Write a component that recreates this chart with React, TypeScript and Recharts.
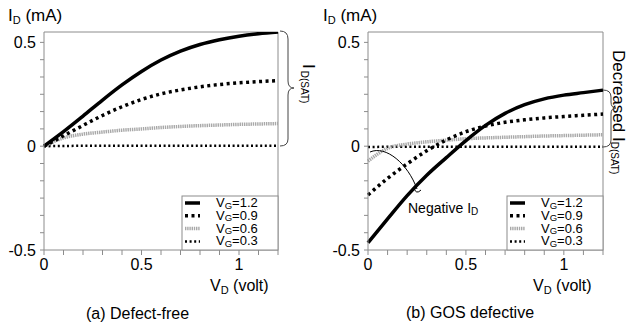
import React from 'react';
import { LineChart, Line, XAxis, YAxis, ReferenceLine } from 'recharts';

// drain voltage (V) sampled every 0.1 V
const VD = [0, 0.1, 0.2, 0.3, 0.4, 0.5, 0.6, 0.7, 0.8, 0.9, 1.0, 1.1, 1.2];

// (a) defect-free, I_D in mA
const FREE_VG12 = [0, 0.07, 0.145, 0.222, 0.295, 0.36, 0.415, 0.458, 0.49, 0.513, 0.53, 0.542, 0.55];
const FREE_VG09 = [0, 0.05, 0.1, 0.148, 0.19, 0.225, 0.252, 0.271, 0.286, 0.297, 0.305, 0.311, 0.316];
const FREE_VG06 = [0, 0.04, 0.058, 0.068, 0.077, 0.083, 0.09, 0.095, 0.099, 0.102, 0.105, 0.107, 0.109];
const FREE_VG03 = [0, 0.001, 0.002, 0.002, 0.002, 0.002, 0.002, 0.002, 0.002, 0.002, 0.002, 0.002, 0.002];

// (b) GOS defective, I_D in mA
const GOS_VG12 = [-0.465, -0.35, -0.238, -0.14, -0.055, 0.027, 0.1, 0.158, 0.2, 0.228, 0.246, 0.258, 0.27];
const GOS_VG09 = [-0.235, -0.155, -0.085, -0.022, 0.03, 0.07, 0.097, 0.115, 0.127, 0.136, 0.143, 0.149, 0.155];
const GOS_VG06 = [-0.072, -0.01, 0.01, 0.021, 0.029, 0.036, 0.04, 0.043, 0.046, 0.049, 0.051, 0.053, 0.055];
const GOS_VG03 = [-0.004, -0.003, -0.003, -0.003, -0.003, -0.003, -0.003, -0.003, -0.003, -0.003, -0.003, -0.003, -0.003];

const X_TICKS = [0, 0.1, 0.2, 0.3, 0.4, 0.5, 0.6, 0.7, 0.8, 0.9, 1.0, 1.1, 1.2];
const X_LABELS = [0, 0.5, 1];
const Y_TICKS = [-0.5, -0.4167, -0.3333, -0.25, -0.1667, -0.0833, 0, 0.0833, 0.1667, 0.25, 0.3333, 0.4167, 0.5];
const Y_LABELS = [-0.5, 0, 0.5];

const SERIES = [
  { key: 'vg12', label: '1.2', stroke: '#000', width: 3.5, dash: undefined as string | undefined },
  { key: 'vg09', label: '0.9', stroke: '#000', width: 3.5, dash: '3 3.5' },
  { key: 'vg06', label: '0.6', stroke: '#a8a8a8', width: 3.5, dash: '1.4 0.8' },
  { key: 'vg03', label: '0.3', stroke: '#000', width: 2.5, dash: '2 2.6' },
];

const FONT = '"Liberation Sans", Arial, sans-serif';
const AXIS = '#8c8c8c';

const build = (a: number[], b: number[], c: number[], d: number[]) =>
  VD.map((v, i) => ({ vd: v, vg12: a[i], vg09: b[i], vg06: c[i], vg03: d[i] }));

const freeData = build(FREE_VG12, FREE_VG09, FREE_VG06, FREE_VG03);
const gosData = build(GOS_VG12, GOS_VG09, GOS_VG06, GOS_VG03);

const fmtX = (v: number) => (X_LABELS.some(l => Math.abs(l - v) < 1e-6) ? String(v) : '');
const fmtY = (v: number) => (Y_LABELS.some(l => Math.abs(l - v) < 1e-6) ? String(v) : '');

const Panel = ({ data, width, yWidth, right }: any) => (
  <LineChart width={width} height={329} data={data} margin={{ top: 32, right, bottom: 49, left: 0 }}>
    <XAxis
      type="number"
      dataKey="vd"
      domain={[0, 1.2]}
      ticks={X_TICKS}
      interval={0}
      tickFormatter={fmtX}
      height={30}
      axisLine={{ stroke: AXIS }}
      tickLine={{ stroke: AXIS }}
      tickSize={5}
      tickMargin={4}
      tick={{ fill: '#000', fontSize: 16, fontFamily: FONT }}
    />
    <YAxis
      type="number"
      domain={[-0.5, 0.55]}
      allowDataOverflow
      ticks={Y_TICKS}
      interval={0}
      tickFormatter={fmtY}
      width={yWidth}
      axisLine={{ stroke: AXIS }}
      tickLine={{ stroke: AXIS }}
      tickSize={4}
      tickMargin={4}
      tick={{ fill: '#000', fontSize: 16, fontFamily: FONT }}
    />
    <ReferenceLine y={0.55} stroke={AXIS} />
    <ReferenceLine x={1.2} stroke={AXIS} />
    {[...SERIES].reverse().map(s => (
      <Line
        key={s.key}
        type="monotone"
        dataKey={s.key}
        stroke={s.stroke}
        strokeWidth={s.width}
        strokeDasharray={s.dash}
        dot={false}
        isAnimationActive={false}
      />
    ))}
  </LineChart>
);

const LegendBox = ({ x, y }: { x: number; y: number }) => (
  <g>
    <rect x={x} y={y} width={96} height={54} fill="#fff" stroke={AXIS} />
    {SERIES.map((s, i) => {
      const base = y + 11 + i * 12.8;
      return (
        <g key={s.key}>
          <line x1={x + 3} x2={x + 18} y1={base - 4} y2={base - 4} stroke={s.stroke} strokeWidth={s.width} strokeDasharray={s.dash} />
          <text x={x + 34} y={base} fontSize={13} fontFamily={FONT}>
            V<tspan fontSize={9.5} dy={1.5}>G</tspan><tspan dy={-1.5}>={s.label}</tspan>
          </text>
        </g>
      );
    })}
  </g>
);

const Overlay = () => (
  <svg width={632} height={329} style={{ position: 'absolute', left: 0, top: 0, pointerEvents: 'none' }}>
    <g fontFamily={FONT} fill="#000">
      <text x={8} y={21} fontSize={17}>I<tspan fontSize={11} dy={3}>D</tspan><tspan dy={-3}> (mA)</tspan></text>
      <text x={323} y={21} fontSize={17}>I<tspan fontSize={11} dy={3}>D</tspan><tspan dy={-3}> (mA)</tspan></text>

      <text x={210} y={291} fontSize={16}>V<tspan fontSize={11} dy={3}>D</tspan><tspan dy={-3}> (volt)</tspan></text>
      <text x={533} y={291} fontSize={16}>V<tspan fontSize={11} dy={3}>D</tspan><tspan dy={-3}> (volt)</tspan></text>

      <text x={86} y={319} fontSize={16}>(a) Defect-free</text>
      <text x={406} y={318} fontSize={16}>(b) GOS defective</text>

      <text transform="translate(303,64) rotate(90)" fontSize={17}>
        I<tspan fontSize={10} dx={2} dy={2}>D(SAT)</tspan>
      </text>
      <text transform="translate(613,50) rotate(90)" fontSize={17}>
        Decreased I<tspan fontSize={10} dy={2}>D(SAT)</tspan>
      </text>

      <text x={408} y={213} fontSize={14}>Negative I<tspan fontSize={10} dy={2}>D</tspan></text>
    </g>

    <g fill="none" stroke="#444" strokeWidth={1}>
      <path d="M280,31 Q288,31 288,39 L288,81 Q288,88 294,88 Q288,88 288,95 L288,139 Q288,146 280,146" />
      <path d="M603,90 Q611,90 611,97 L611,102 Q611,108 616,108 Q611,108 611,114 L611,140 Q611,147 603,147" />
      <path d="M370,152 C386,145 408,164 417,189" stroke="#000" />
      <path d="M414,188 Q416,195 421,190" stroke="#000" />
    </g>

    <LegendBox x={182} y={196} />
    <LegendBox x={507} y={196} />
  </svg>
);

export default function App() {
  return (
    <div style={{ position: 'absolute', left: 0, top: 0, width: 632, height: 329, background: '#fff' }}>
      <div style={{ position: 'absolute', left: 0, top: 0 }}>
        <Panel data={freeData} width={320} yWidth={44} right={42} />
      </div>
      <div style={{ position: 'absolute', left: 320, top: 0 }}>
        <Panel data={gosData} width={312} yWidth={48} right={29} />
      </div>
      <Overlay />
    </div>
  );
}
